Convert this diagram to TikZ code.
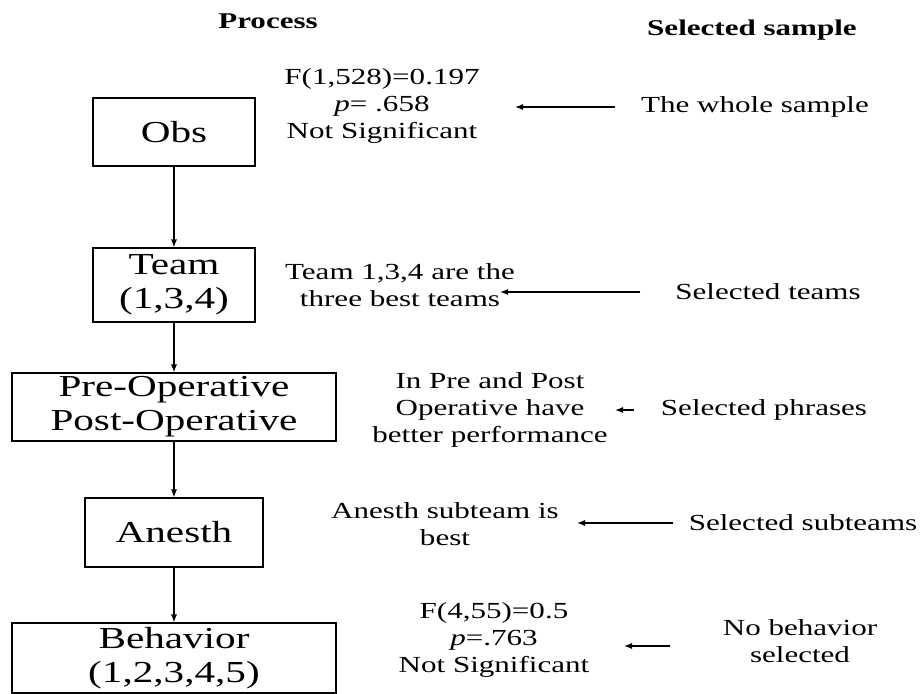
\documentclass[tikz,border=0pt]{standalone}
\usepackage{fontspec}
\setmainfont{Liberation Serif}[FakeStretch=1.35]
\newfontfamily\titlefont{Liberation Serif}[FakeStretch=1.38]
\usetikzlibrary{arrows.meta}
\tikzset{
  procbox/.style={draw, line width=1.1pt, inner sep=0pt, align=center,
    font=\fontsize{30.5}{34}\selectfont},
  note/.style={inner sep=0pt, align=center, font=\fontsize{23}{27}\selectfont},
  titletext/.style={inner sep=0pt, font=\titlefont\bfseries\fontsize{22.5}{26}\selectfont},
  flow/.style={line width=1.1pt, -{Latex[length=8pt,width=6pt]}},
  pointer/.style={line width=1.1pt, -{Latex[length=8pt,width=6pt]}}
}
\begin{document}
\begin{tikzpicture}[x=1pt,y=-1pt]
\useasboundingbox (0,0) rectangle (922,694);
% titles
\node[titletext] (tproc) at (268,21) {Process};
\node[titletext] (tsel) at (752,30) {Selected sample};
% process boxes
\node[procbox, minimum width=162pt, minimum height=68pt] (obs) at (174,132) {Obs};
\node[procbox, minimum width=162pt, minimum height=74pt] (team) at (174,285) {Team\\(1,3,4)};
\node[procbox, minimum width=324pt, minimum height=68pt] (prepost) at (174,407) {Pre-Operative\\Post-Operative};
\node[procbox, minimum width=178pt, minimum height=69pt] (anesth) at (174,532.5) {Anesth};
\node[procbox, minimum width=324pt, minimum height=70pt] (behav) at (174,658) {Behavior\\(1,2,3,4,5)};
% flow arrows
\draw[flow] (obs) -- (team);
\draw[flow] (team) -- (prepost);
\draw[flow] (prepost) -- (anesth);
\draw[flow] (anesth) -- (behav);
% result notes
\node[note] (s1) at (382,106) {F(1,528)=0.197\\\textit{p}= .658\\Not Significant};
\node[note] (s2) at (400,285) {Team 1,3,4 are the\\three best teams};
\node[note] (s3) at (490,410) {In Pre and Post\\Operative have\\better performance};
\node[note] (s4) at (445,524) {Anesth subteam is\\best};
\node[note] (s5) at (494,640) {F(4,55)=0.5\\\textit{p}=.763\\Not Significant};
% selected sample notes
\node[note] (r1) at (755,107) {The whole sample};
\node[note] (r2) at (768,292) {Selected teams};
\node[note] (r3) at (764,410) {Selected phrases};
\node[note] (r4) at (803,523) {Selected subteams};
\node[note] (r5) at (800,641) {No behavior\\selected};
% pointer arrows
\coordinate (p1a) at (615,107); \coordinate (p1b) at (515,107);
\coordinate (p2a) at (640,292); \coordinate (p2b) at (500,292);
\coordinate (p3a) at (634,410); \coordinate (p3b) at (615,410);
\coordinate (p4a) at (673,523); \coordinate (p4b) at (577,523);
\coordinate (p5a) at (670,646); \coordinate (p5b) at (624,646);
\draw[pointer] (p1a) -- (p1b);
\draw[pointer] (p2a) -- (p2b);
\draw[pointer] (p3a) -- (p3b);
\draw[pointer] (p4a) -- (p4b);
\draw[pointer] (p5a) -- (p5b);
\end{tikzpicture}
\end{document}
